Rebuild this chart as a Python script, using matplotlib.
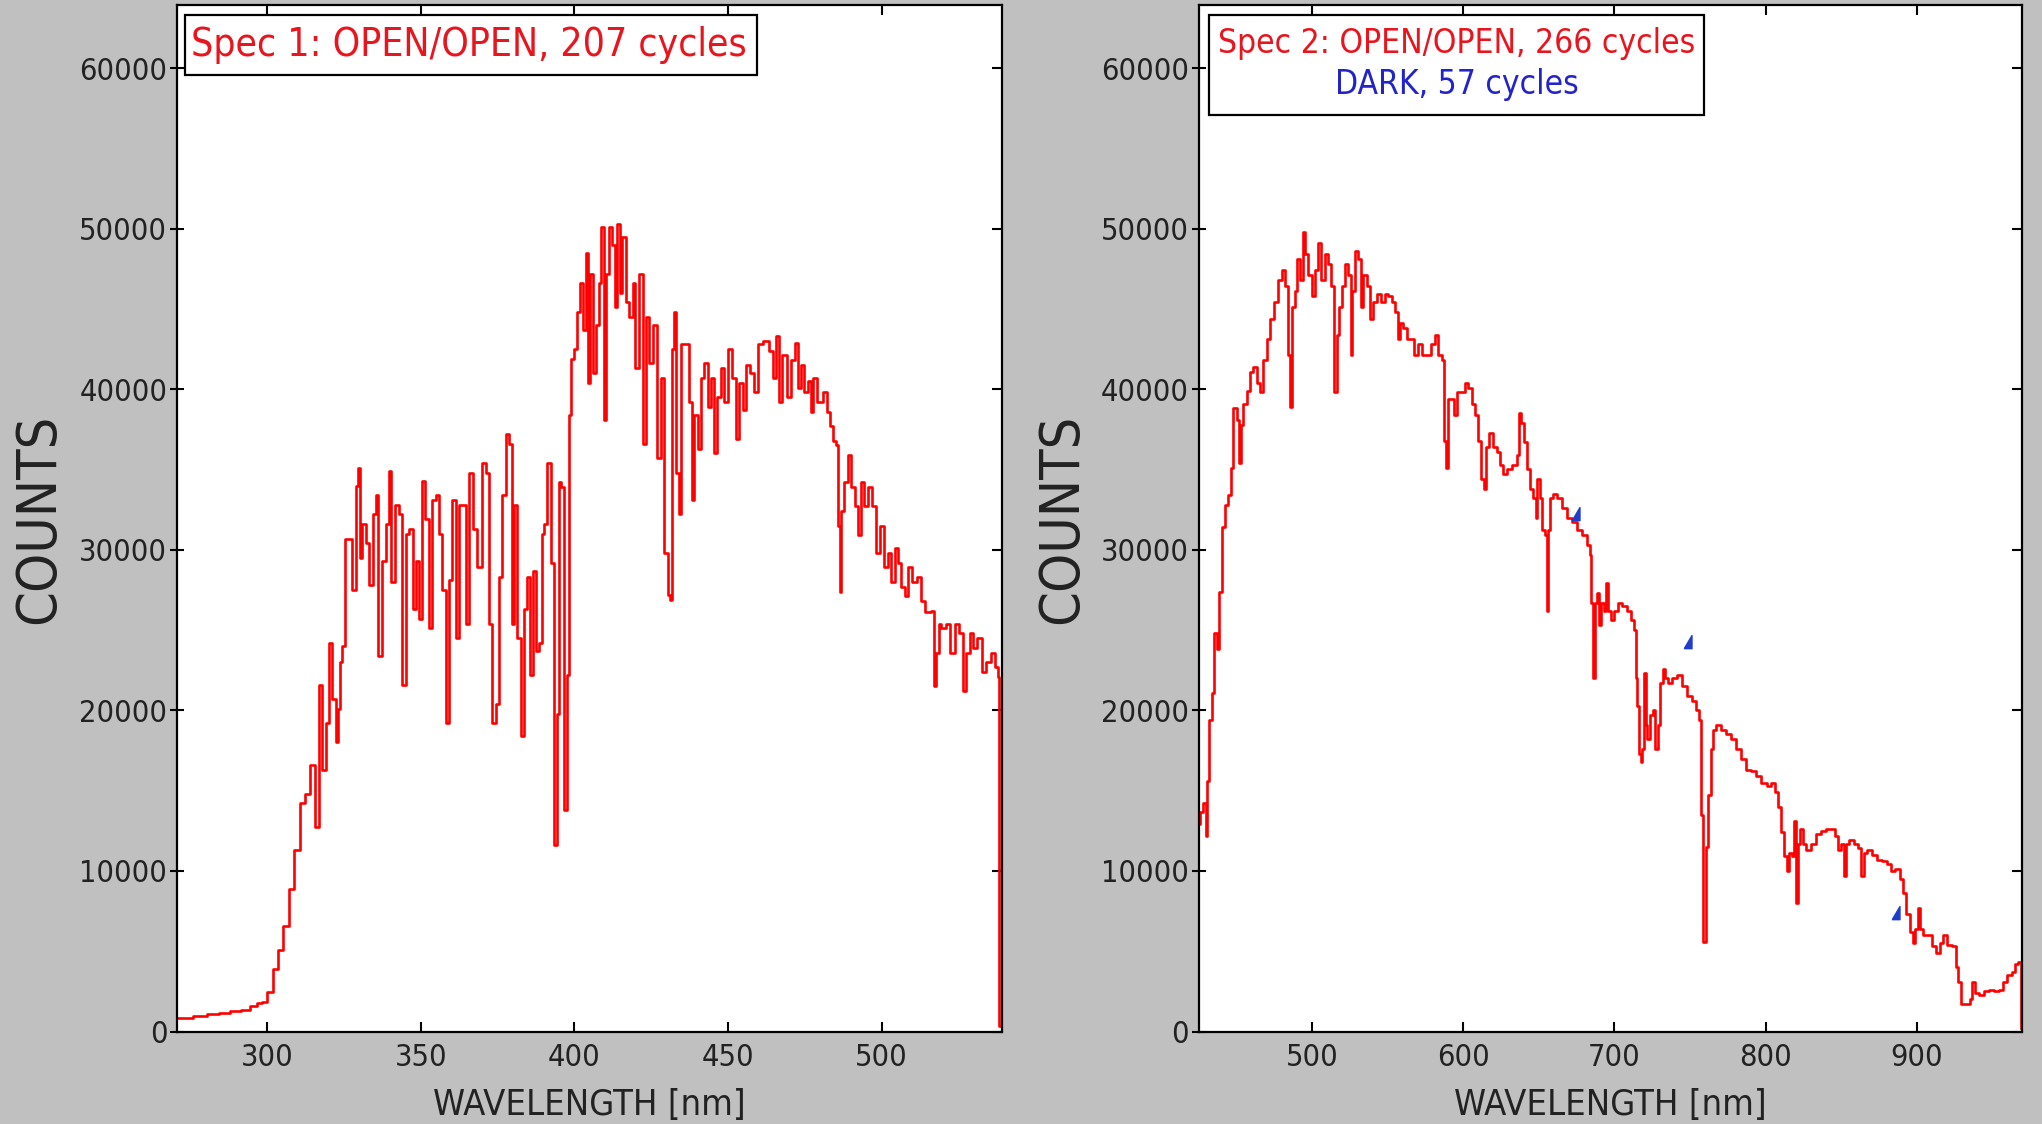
import matplotlib
matplotlib.use("Agg")
import matplotlib.pyplot as plt
import matplotlib.lines as mlines
from matplotlib.patches import Rectangle

plt.rcParams['font.family'] = ['DejaVu Sans']
plt.rcParams['font.stretch'] = 'condensed'

# ---------------- data ----------------
wl1 = [270.7, 274, 278, 282.7, 286, 290, 293, 295.7, 298, 299, 301, 302.8, 304.4, 306, 308, 309.8,
       311.5, 313, 315.2, 316.3, 317.4, 318.5, 319.6, 320.7, 321.8, 322.9, 323.5, 324, 325.1, 325.6,
       327.3, 328.3, 329.4, 330, 330.5, 331.6, 332.7, 333.8, 334.9, 336, 336.5, 338, 339.3, 340.2,
       340.8, 342.4, 343.5, 344.6, 345.7, 346.8, 347.9, 349, 350, 350.6, 352.2, 353.3, 354.3, 355.4,
       356.5, 357.6, 358.7, 359.8, 360.9, 362, 363, 364.1, 365.2, 366.3, 367.9, 369, 370.6, 371.7,
       372.8, 373.9, 374.9, 376, 377.1, 378.2, 379.3, 379.9, 380.9, 382, 383.1, 384.2, 385.3, 386,
       386.9, 388, 389.1, 389.6, 390.7, 391.8, 392.9, 393.8, 394.7, 395.4, 396.2, 397.3, 397.8,
       398.4, 399.1, 400.5, 401.3, 402.2, 403.2, 404.1, 404.8, 405.6, 406.4, 407.5, 408.4, 409.2,
       409.9, 410.7, 411.8, 412.7, 413.5, 414.3, 415.1, 416.2, 417.3, 418.4, 419.5, 420.3, 421.6,
       422.9, 423.8, 424.9, 426.5, 427.6, 428.7, 429.8, 430.9, 431.6, 432.1, 432.7, 433.6, 434.5,
       435.2, 436.9, 437.9, 438.5, 439.6, 440.7, 441.7, 442.8, 443.9, 445, 446, 447.1, 448.2, 449.3,
       450.9, 452, 453.1, 454.2, 455.3, 456.4, 458, 459.1, 460.5, 462.4, 464, 465.1, 466.2, 467,
       468.4, 470, 471.1, 472.5, 473.3, 474.3, 475.4, 476.5, 477.3, 478.1, 479.8, 482, 482.7, 483.6,
       484.7, 485.5, 486.1, 486.6, 487.2, 488.5, 489.6, 490.7, 491.7, 492.8, 493.6, 495, 496.1,
       497.5, 498.8, 499.9, 501.5, 502.6, 503.7, 504.8, 505.9, 506.9, 508, 509.1, 510.7, 512.4,
       513.4, 515.1, 516.7, 517.2, 518.3, 518.9, 520, 521.6, 523.2, 524.6, 525.9, 527, 528.1, 529.2,
       530.3, 531.9, 533.3, 534.6, 536.3, 537.4, 538.1, 538.4, 539.2]
cnt1 = [825, 850, 970, 1120, 1150, 1270, 1350, 1560, 1750, 1860, 2450, 3900, 5100, 6570, 8900, 11300,
        14200, 14800, 16600, 12750, 21600, 16300, 19200, 24200, 20700, 18000, 20100, 23000, 24000, 30700,
        30700, 27500, 34000, 35100, 29500, 31600, 30400, 27800, 32200, 33400, 23400, 29300, 31600, 34900,
        28000, 32800, 32200, 21600, 31000, 31300, 26300, 29300, 25700, 34300, 31900, 25100, 33100, 33400,
        31000, 27500, 19200, 28100, 33100, 24500, 32800, 32800, 25400, 34800, 31300, 28900, 35400, 34800,
        25400, 19200, 20400, 28300, 33400, 37200, 36600, 25400, 32800, 24500, 18400, 26300, 28300, 22200,
        28700, 23700, 24200, 31000, 31600, 35400, 29200, 11600, 19800, 34200, 33900, 13800, 22200,
        38400, 41900, 42500, 44800, 46600, 43700, 48500, 40400, 47200, 41000, 44000, 46600, 50100,
        38100, 47200, 50100, 49000, 45100, 50300, 46000, 49500, 45400, 44500, 46600, 41300, 47200,
        36600, 44500, 41600, 44000, 35700, 40700, 29800, 27200, 26900, 42500, 44800, 34800, 32200,
        42800, 42800, 39200, 33100, 38400, 36300, 40700, 41600, 38900, 40700, 36000, 39500, 41300, 39200,
        42500, 40700, 36900, 40400, 38700, 41500, 41000, 39800, 42800, 43000, 42400, 40700, 43300, 39200,
        42100, 39500, 41800, 42900, 40100, 41500, 39800, 40500, 38600, 40700, 39200, 39800, 38600, 37700,
        36800, 36500, 31500, 27400, 32400, 34200, 35900, 33900, 32700, 30900, 34200, 32700, 33900,
        32700, 29800, 31500, 28900, 29800, 28000, 30100, 29200, 27700, 27100, 28900, 28000, 28300,
        26800, 26100, 26200, 21500, 23600, 25400, 25100, 25400, 23600, 25400, 24800, 21200, 23600, 24800,
        23900, 24500, 22400, 23000, 23600, 22700, 22100, 350, 350]

wl2 = [425.4, 427, 429.2, 430.2, 431.4, 432.9, 434.7, 435.8, 438, 439.1, 441.3, 443.5, 445.7, 446.8,
       449, 451.2, 452.3, 453.4, 455.6, 457.8, 460, 462.2, 464.4, 466.6, 468.8, 471, 473.3, 476.1,
       478.8, 481, 483.6, 484.7, 486, 487.6, 489.3, 490.9, 492.6, 494.8, 496.4, 498.6, 500.8, 503,
       505.2, 507, 509.6, 511.4, 513.6, 515.4, 517, 519, 520.6, 522.8, 525, 526.1, 527.2, 529.4,
       531.6, 532.7, 534.9, 537.2, 539.4, 541.6, 543.8, 547.1, 549.3, 551.5, 553.7, 555.9, 557.7,
       559.3, 561.5, 563.7, 565.9, 569.2, 571.5, 573.7, 577, 580.3, 582.5, 584.7, 586.9, 588, 589.1,
       590.2, 593.5, 594.6, 596.8, 600.1, 602.3, 604.5, 606.7, 608.9, 611.1, 612.7, 614.3, 615.8,
       618.8, 621, 623.2, 625.3, 627.6, 630.9, 634.2, 636.4, 637.5, 639.3, 640.8, 643, 645.2, 647.4,
       648.5, 649.6, 651.8, 652.9, 655.1, 655.8, 656.9, 658.4, 660.6, 663.9, 667.3, 670.6, 673.9,
       677.2, 680.5, 682.7, 684.4, 685.3, 686.4, 687.5, 689.3, 690.8, 692.1, 693.7, 695.2, 696.5,
       698.7, 701.4, 703.6, 706.9, 710.2, 712.4, 713.5, 714.6, 715.7, 716.8, 717.9, 719, 720.1,
       721.2, 722.3, 724.5, 726.1, 727.8, 729.6, 731.2, 732.7, 734.5, 736.7, 740, 743.3, 746.6,
       749.9, 753.2, 755.4, 757, 758.1, 759.2, 760.3, 761.4, 763.1, 764.2, 766.4, 768.6, 771.9,
       775.2, 778.6, 781.9, 785.2, 788.5, 791.8, 795.1, 799.5, 802.8, 805, 807.2, 809.4, 811.6,
       813.4, 814.9, 816.4, 818.2, 819.3, 820.9, 822.2, 823.7, 826, 828.1, 831.4, 834.7, 838, 841.4,
       844.7, 847.3, 849.1, 851.3, 852.8, 853.9, 856.8, 860.1, 862.3, 864.5, 865.6, 868.9, 872.2,
       875.5, 878.8, 882.1, 884.3, 887.6, 889.9, 892.1, 894.3, 896.5, 898, 899.8, 901.6, 903.1,
       905.3, 908.6, 911.9, 914.1, 916.3, 918.5, 921.8, 925.2, 926.7, 928.5, 930.7, 934, 936.2,
       937.3, 939.5, 942.8, 946.1, 949.5, 952.8, 956.1, 958.3, 961.6, 963.8, 966, 968.2, 969.3]
cnt2 = [12900, 13700, 14200, 12200, 15600, 19400, 21100, 24800, 23800, 27400, 31400, 32800, 33400, 35100,
        38800, 38100, 35400, 37800, 39100, 39900, 41100, 41400, 40400, 39800, 41800, 43100, 44400, 45400,
        46800, 47400, 46400, 42100, 38900, 45100, 46100, 48100, 46800, 49800, 48400, 47100, 45800, 47400,
        49100, 46800, 48400, 47800, 46400, 39800, 43400, 45100, 46400, 47800, 47100, 42100, 46100, 48600,
        48100, 45100, 47100, 46400, 44400, 45400, 45900, 45400, 45900, 45800, 45400, 44800, 43100,
        44100, 43800, 43100, 43100, 42100, 42800, 42100, 42100, 42800, 43400, 42100, 41800, 36800, 35100,
        39400, 39400, 38400, 39800, 39800, 40400, 40100, 39100, 38400, 36800, 34400, 33800, 36400,
        37300, 36400, 36100, 35300, 34700, 35000, 35300, 35900, 38500, 37900, 36700, 35000, 33800, 33200,
        32000, 34400, 33200, 31200, 30900, 26200, 31200, 33200, 33500, 33200, 32600, 32000, 31700,
        31200, 30900, 30300, 29700, 26700, 22000, 26700, 27300, 25300, 26700, 26200, 27900, 26200,
        25600, 26200, 26700, 26500, 26200, 25600, 25000, 22000, 20300, 17300, 16800, 17600, 22300,
        19100, 18200, 19700, 20000, 17600, 19100, 21700, 22600, 22000, 21700, 22000, 22200, 21500,
        20900, 20600, 20000, 19400, 13500, 5600, 5600, 11500, 14700, 17600, 18800, 19100, 18800,
        18500, 18200, 17600, 17000, 16300, 16200, 15900, 15500, 15300, 15500, 14900, 14000, 12400,
        10900, 10000, 11100, 10900, 13100, 8000, 11700, 12600, 11700, 11300, 11700, 12300, 12500, 12600,
        12600, 12200, 11300, 11700, 9700, 11700, 11900, 11700, 11400, 9700, 11100, 11300, 11000,
        10700, 10600, 10400, 10000, 10100, 9500, 8600, 7300, 6200, 5500, 6400, 7700, 6400,
        6000, 6000, 5300, 4900, 5500, 6000, 5400, 5300, 4000, 3100, 1700, 1700, 2000,
        3100, 2400, 2300, 2500, 2600, 2500, 2600, 3100, 3500, 3700, 4200, 4300, 200]

dark_wl = [674.5, 748.8, 886.5]
dark_cnt = [32200, 24250, 7400]

yticks = [0, 10000, 20000, 30000, 40000, 50000, 60000]
xticks1 = [300, 350, 400, 450, 500]
xticks2 = [500, 600, 700, 800, 900]

legend1 = "Spec 1: OPEN/OPEN, 207 cycles"
legend2a = "Spec 2: OPEN/OPEN, 266 cycles"
legend2b = "DARK, 57 cycles"

# ---------------- figure ----------------
W, H = 2042, 1124
fig = plt.figure(figsize=(W / 100, H / 100), dpi=100, facecolor='#C0C0C0')

def px_axes(x0, x1, ytop, ybot):
    return fig.add_axes([x0 / W, 1 - ybot / H, (x1 - x0) / W, (ybot - ytop) / H])

ax1 = px_axes(177, 1001.5, 5.4, 1031.5)
ax2 = px_axes(1198.8, 2021.8, 5.4, 1031.5)

red = '#FF0000'
ax1.plot(wl1, cnt1, color=red, lw=1.9, drawstyle='steps-mid')
ax2.plot(wl2, cnt2, color=red, lw=1.9, drawstyle='steps-mid')
tri = [(-0.55, -0.8), (0.45, -0.8), (0.45, 0.9), (-0.55, -0.8)]
ax2.plot(dark_wl, dark_cnt, ls='none', marker=tri, markersize=10, color='#1E3CD0')

ax1.set_xlim(270.7, 539.0)
ax2.set_xlim(425.1, 969.5)

for ax, xt in ((ax1, xticks1), (ax2, xticks2)):
    ax.set_facecolor('white')
    ax.set_ylim(0, 63900)
    ax.set_xticks(xt)
    ax.set_yticks(yticks)
    ax.set_xticklabels([str(v) for v in xt])
    ax.set_yticklabels([str(v) for v in yticks])
    for s in ax.spines.values():
        s.set_linewidth(1.6)
        s.set_color('black')
    ax.tick_params(axis='x', which='both', direction='in', top=True, bottom=True,
                   length=7, width=1.5, labelsize=22, pad=8, colors='black', labelcolor='#222222')
    ax.tick_params(axis='y', which='both', direction='inout', left=True, right=True,
                   length=10, width=1.5, labelsize=22, pad=2, labelcolor='#222222')
    ax.set_ylabel('COUNTS', fontsize=40, color='#222222')
    ax.yaxis.label.set_va('center')
    ax.set_xlabel('WAVELENGTH [nm]', fontsize=26, color='#222222')
    ax.xaxis.label.set_va('center')
    # right-side ticks point inward only
    for t in ax.yaxis.get_major_ticks():
        t.tick2line.set_marker(mlines.TICKLEFT)
        t.tick2line.set_markersize(7)

ax1.yaxis.set_label_coords(-0.167, 0.5)
ax2.yaxis.set_label_coords(-0.1657, 0.5)
ax1.xaxis.set_label_coords(0.5, -0.0716)
ax2.xaxis.set_label_coords(0.5, -0.0716)

# legend boxes
ax1.add_patch(Rectangle((0.0092, 0.9322), 0.7038 - 0.0092, 0.9906 - 0.9322, transform=ax1.transAxes,
                        facecolor='white', edgecolor='black', lw=1.6, zorder=5))
ax1.text(0.0165, 0.9614, legend1, transform=ax1.transAxes, ha='left', va='center',
         fontsize=28, color='#E8141E', zorder=6)

ax2.add_patch(Rectangle((0.0123, 0.8928), 0.614 - 0.0123, 0.9911 - 0.8928, transform=ax2.transAxes,
                        facecolor='white', edgecolor='black', lw=1.6, zorder=5))
ax2.text(0.3131, 0.9633, legend2a, transform=ax2.transAxes, ha='center', va='center',
         fontsize=24, color='#E8141E', zorder=6)
ax2.text(0.3131, 0.9229, legend2b, transform=ax2.transAxes, ha='center', va='center',
         fontsize=24, color='#2323CC', zorder=6)

fig.savefig('out.png', dpi=100, facecolor=fig.get_facecolor())
